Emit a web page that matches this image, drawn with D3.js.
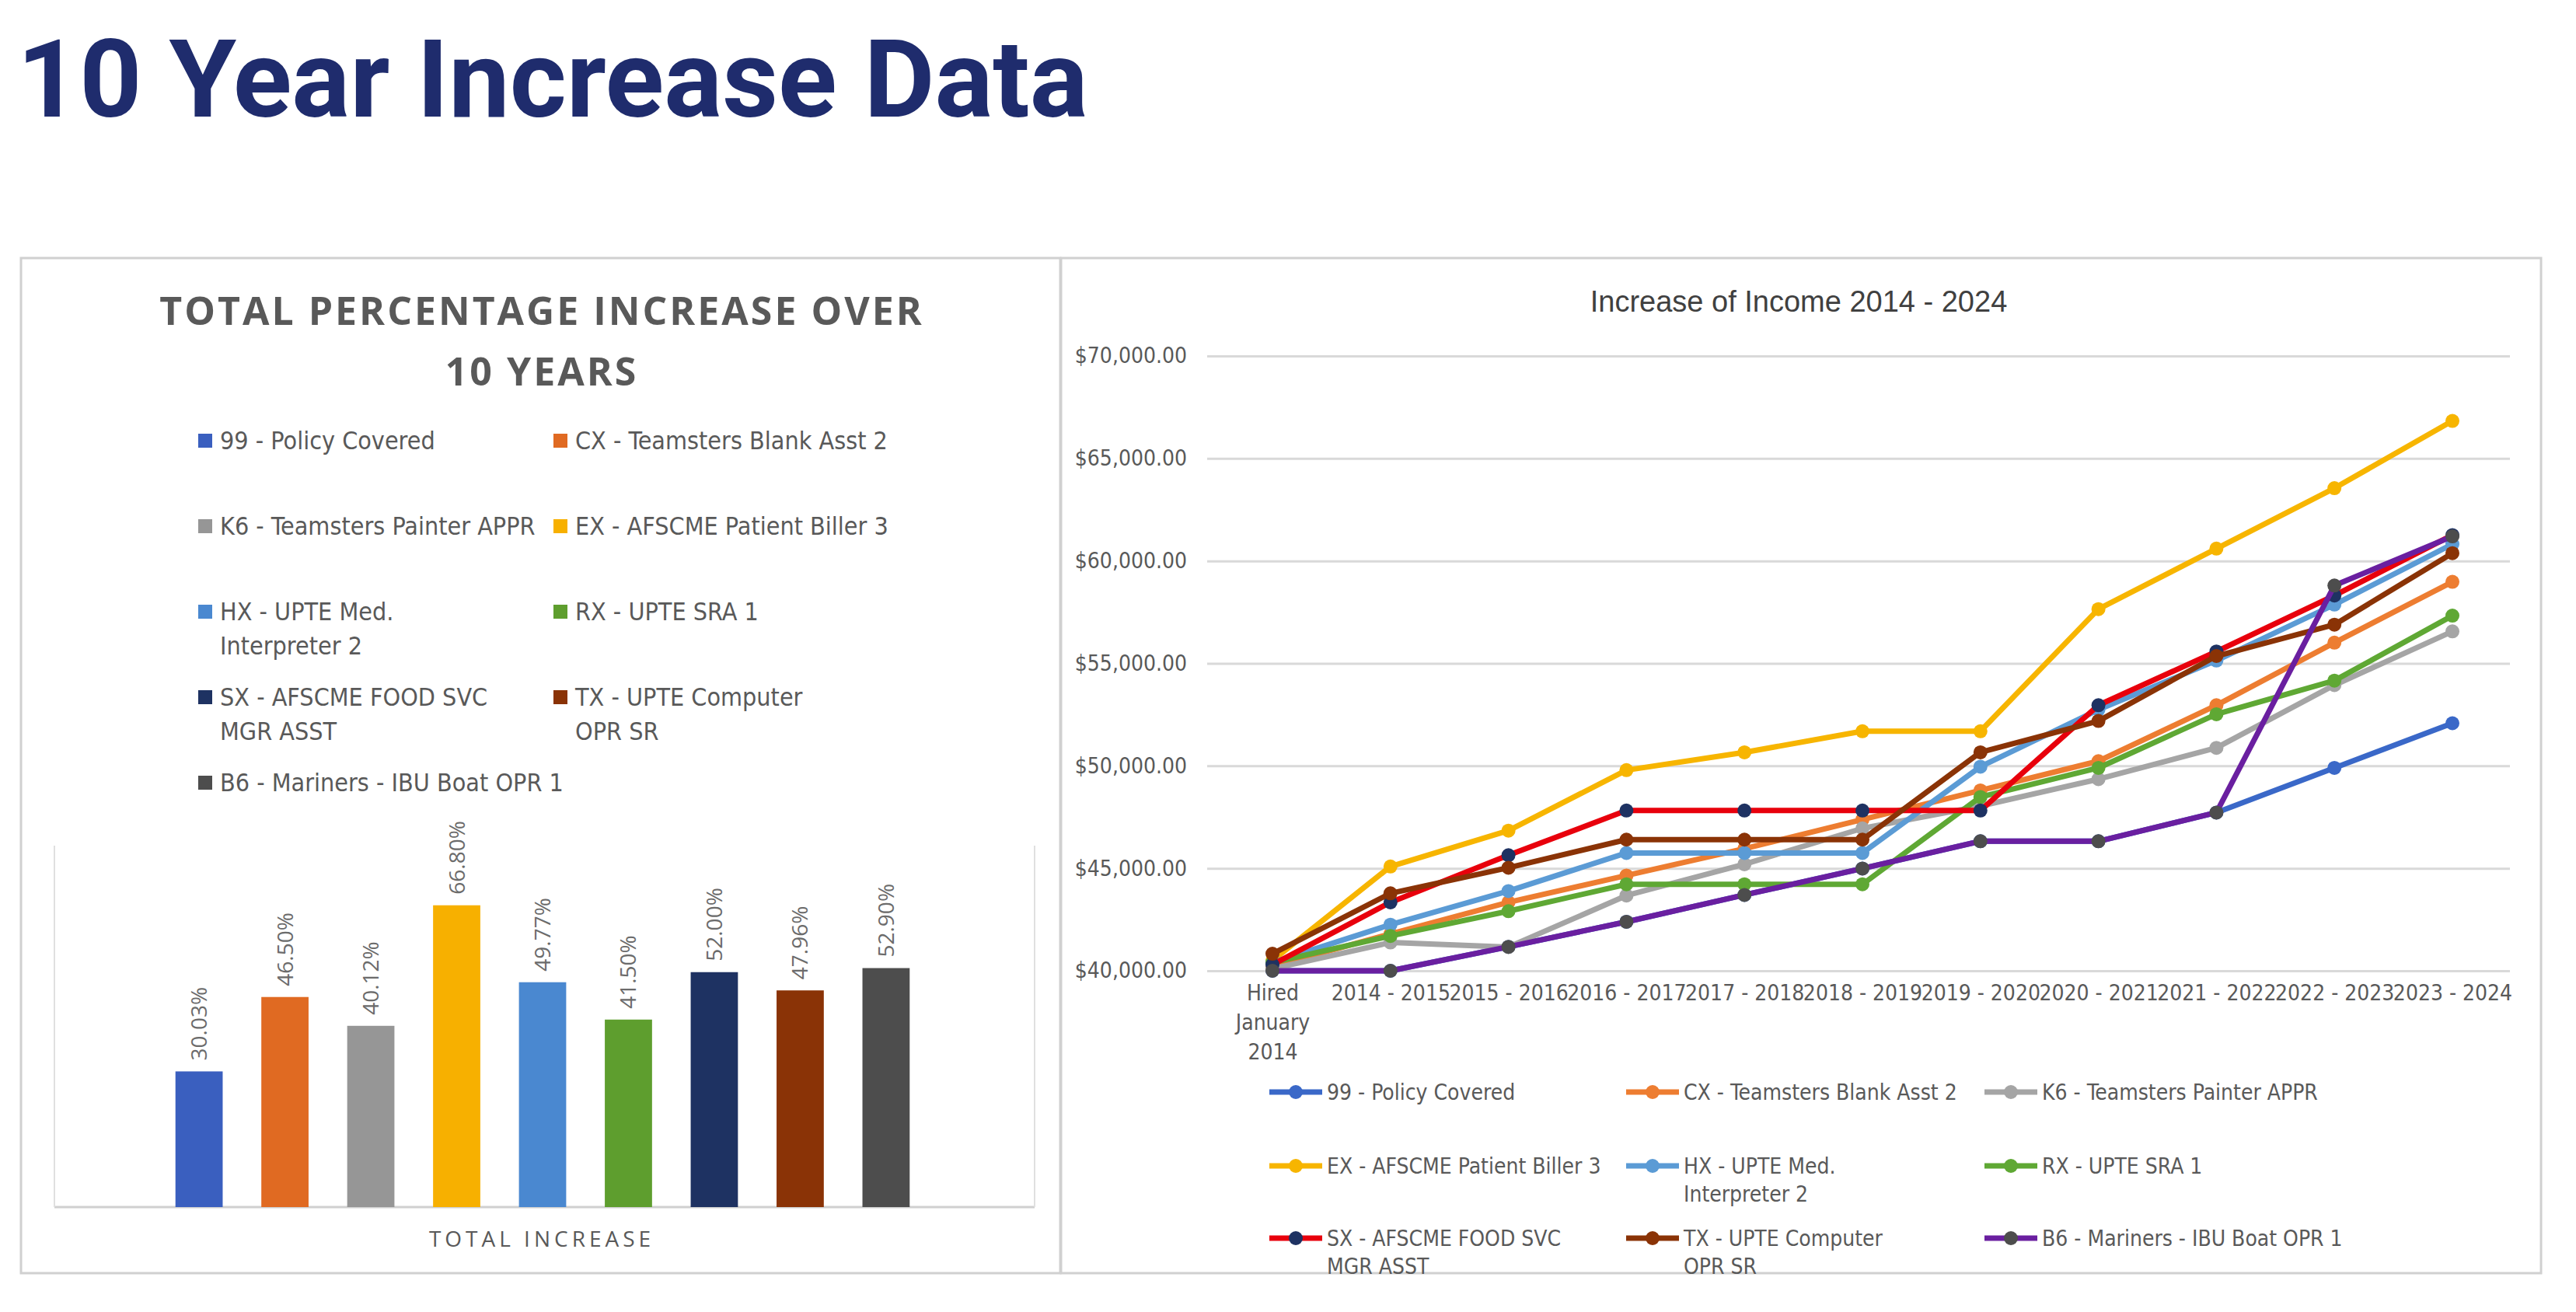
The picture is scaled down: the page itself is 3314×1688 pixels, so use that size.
<!DOCTYPE html>
<html>
<head>
<meta charset="utf-8">
<script src="https://cdn.jsdelivr.net/npm/d3@7"></script>
<style>
  body { margin: 0; background: #fff; }
  svg { display: block; }
</style>
</head>
<body>
<svg id="page" width="3314" height="1688"></svg>
<script>
// ---- data ----
const barCodes = ["99 - Policy Covered", "CX - Teamsters Blank Asst 2", "K6 - Teamsters Painter APPR",
  "EX - AFSCME Patient Biller 3", "HX - UPTE Med. Interpreter 2", "RX - UPTE SRA 1",
  "SX - AFSCME FOOD SVC MGR ASST", "TX - UPTE Computer OPR SR", "B6 - Mariners - IBU Boat OPR 1"];
const barValues = [30.03, 46.50, 40.12, 66.80, 49.77, 41.50, 52.00, 47.96, 52.90];
const barColors = ["#3a5fbf", "#e06a22", "#969696", "#f7b000", "#4a88d0", "#5e9e2e", "#1e3262", "#8a3306", "#4d4d4d"];

// legend labels split onto lines as in the picture
const legendLines = [["99 - Policy Covered"], ["CX - Teamsters Blank Asst 2"], ["K6 - Teamsters Painter APPR"],
  ["EX - AFSCME Patient Biller 3"], ["HX - UPTE Med.", "Interpreter 2"], ["RX - UPTE SRA 1"],
  ["SX - AFSCME FOOD SVC", "MGR ASST"], ["TX - UPTE Computer", "OPR SR"], ["B6 - Mariners - IBU Boat OPR 1"]];

const years = ["Hired January 2014", "2014 - 2015", "2015 - 2016", "2016 - 2017", "2017 - 2018",
  "2018 - 2019", "2019 - 2020", "2020 - 2021", "2021 - 2022", "2022 - 2023", "2023 - 2024"];

const s99 = [40000, 40000, 41170, 42390, 43700, 44990, 46320, 46320, 47720, 49900, 52080];
const sCX = [40200, 41800, 43340, 44650, 45960, 47380, 48800, 50230, 52960, 56010, 58980];
const sK6 = [40100, 41380, 41160, 43670, 45200, 46950, 48040, 49350, 50880, 53940, 56560];
const sEX = [40500, 45090, 46840, 49790, 50660, 51690, 51690, 57650, 60600, 63550, 66830];
const sHX = [40400, 42250, 43890, 45750, 45750, 45750, 49960, 52740, 55140, 57870, 60820];
const sRX = [40400, 41700, 42910, 44220, 44220, 44220, 48480, 49900, 52520, 54160, 57330];
const sSX = [40300, 43340, 45640, 47820, 47820, 47820, 47820, 52960, 55580, 58310, 61260];
const sTX = [40830, 43780, 45030, 46400, 46400, 46400, 50660, 52190, 55360, 56890, 60380];
const sB6 = [40000, 40000, 41170, 42390, 43700, 44990, 46320, 46320, 47720, 58800, 61200];

const lineSeries = [s99, sCX, sK6, sEX, sHX, sRX, sSX, sTX, sB6];
const lineColors = ["#3a68c8", "#ed7d31", "#a5a5a5", "#f7b500", "#5b9bd5", "#5fa834", "#e8000c", "#8a3306", "#6a1fa0"];
const markerColors = ["#3a68c8", "#ed7d31", "#a5a5a5", "#f7b500", "#5b9bd5", "#5fa834", "#1e3262", "#8a3306", "#4d4d4d"];
const yTicks = [40000, 45000, 50000, 55000, 60000, 65000, 70000];

const svg = d3.select("#page");
const narrow = "'Liberation Sans Narrow', 'DejaVu Sans Condensed', sans-serif";

// page title
svg.append("text").attr("x", 22).attr("y", 150)
  .attr("font-family", "Roboto, sans-serif").attr("font-weight", 700)
  .attr("font-size", 140).attr("fill", "#1f2c6d")
  .text("10 Year Increase Data");

// panel frames
svg.append("rect").attr("x", 27).attr("y", 332).attr("width", 1337).attr("height", 1306)
  .attr("fill", "none").attr("stroke", "#d0d0d0").attr("stroke-width", 3);
svg.append("rect").attr("x", 1365).attr("y", 332).attr("width", 1904).attr("height", 1306)
  .attr("fill", "none").attr("stroke", "#d0d0d0").attr("stroke-width", 3);

// ---------- bar chart ----------
const bar = svg.append("g");
bar.selectAll("text.btitle")
  .data(["TOTAL  PERCENTAGE  INCREASE  OVER", "10  YEARS"])
  .enter().append("text")
  .attr("x", 697).attr("y", (d, i) => 418 + i * 78)
  .attr("text-anchor", "middle")
  .attr("font-family", "'Open Sans', sans-serif").attr("font-weight", 700)
  .attr("font-size", 50).attr("letter-spacing", 3).attr("fill", "#595959")
  .text(d => d);

const legRowY = [578, 688, 798, 908, 1018];
const legColX = [255, 712];
legendLines.forEach((lines, i) => {
  const x = legColX[i % 2], y = legRowY[Math.floor(i / 2)];
  bar.append("rect").attr("x", x).attr("y", y - 20).attr("width", 18).attr("height", 18).attr("fill", barColors[i]);
  lines.forEach((l, j) => {
    bar.append("text").attr("x", x + 28).attr("y", y + j * 44)
      .attr("font-family", narrow).attr("font-size", 32).attr("fill", "#595959").text(l);
  });
});

const bx = d3.scaleBand().domain(barCodes).range([176, 1220]).padding(0.45);
const by = d3.scaleLinear().domain([0, 80]).range([1553, 1088]);

bar.append("line").attr("x1", 70).attr("x2", 1331).attr("y1", by(0)).attr("y2", by(0))
  .attr("stroke", "#d0d0d0").attr("stroke-width", 3);
bar.append("line").attr("x1", 70).attr("x2", 70).attr("y1", 1088).attr("y2", by(0)).attr("stroke", "#e0e0e0").attr("stroke-width", 2);
bar.append("line").attr("x1", 1331).attr("x2", 1331).attr("y1", 1088).attr("y2", by(0)).attr("stroke", "#e0e0e0").attr("stroke-width", 2);

bar.selectAll("rect.bar").data(barValues).enter().append("rect")
  .attr("class", "bar")
  .attr("x", (d, i) => bx(barCodes[i])).attr("width", bx.bandwidth())
  .attr("y", d => by(d)).attr("height", d => by(0) - by(d))
  .attr("fill", (d, i) => barColors[i]);

bar.selectAll("text.blab").data(barValues).enter().append("text")
  .attr("transform", (d, i) => `translate(${bx(barCodes[i]) + bx.bandwidth() / 2 + 10}, ${by(d) - 14}) rotate(-90)`)
  .attr("font-family", "'Open Sans', sans-serif").attr("font-size", 28).attr("fill", "#6b6b6b")
  .text(d => d.toFixed(2) + "%");

bar.append("text").attr("x", 697).attr("y", 1604).attr("text-anchor", "middle")
  .attr("font-family", "'Open Sans', sans-serif").attr("font-size", 28).attr("letter-spacing", 5)
  .attr("fill", "#595959").text("TOTAL INCREASE");

// ---------- line chart ----------
const lc = svg.append("g");
lc.append("text").attr("x", 2314).attr("y", 401).attr("text-anchor", "middle")
  .attr("font-family", "'Liberation Sans', sans-serif").attr("font-size", 38).attr("fill", "#404040")
  .text("Increase of Income 2014 - 2024");

const x = d3.scalePoint().domain(years).range([1637, 3155]);
const y = d3.scaleLinear().domain([40000, 70000]).range([1249, 458]);

const yAxis = d3.axisLeft(y).tickValues(yTicks).tickSize(-(3229 - 1553))
  .tickFormat(d => "$" + d3.format(",.2f")(d));
const ya = lc.append("g").attr("transform", "translate(1553,0)").call(yAxis);
ya.select(".domain").remove();
ya.selectAll(".tick line").attr("stroke", "#d9d9d9").attr("stroke-width", 3);
ya.selectAll(".tick text").attr("x", -26).attr("font-family", narrow).attr("font-size", 28).attr("fill", "#595959");

const xa = lc.append("g").attr("transform", "translate(0,1249)").call(d3.axisBottom(x).tickSize(0));
xa.select(".domain").remove();
xa.selectAll(".tick text").each(function (d) {
  const t = d3.select(this).text(null).attr("font-family", narrow).attr("font-size", 28).attr("fill", "#595959").attr("y", 38);
  const parts = d.startsWith("Hired") ? ["Hired", "January", "2014"] : [d];
  parts.forEach((p, k) => t.append("tspan").attr("x", 0).attr("dy", k === 0 ? 0 : 38).text(p));
});

const line = d3.line().x((d, i) => x(years[i])).y(d => y(d));
lineSeries.forEach((s, k) => {
  const g = lc.append("g");
  g.append("path").datum(s).attr("d", line).attr("fill", "none")
    .attr("stroke", lineColors[k]).attr("stroke-width", 7).attr("stroke-linejoin", "round");
  g.selectAll("circle").data(s).enter().append("circle")
    .attr("cx", (d, i) => x(years[i])).attr("cy", d => y(d)).attr("r", 9)
    .attr("fill", markerColors[k]);
});

// line legend
const lRowY = [1405, 1500, 1593];
const lColX = [1633, 2092, 2553];
legendLines.forEach((lines, i) => {
  const cx = lColX[i % 3], cy = lRowY[Math.floor(i / 3)];
  lc.append("line").attr("x1", cx).attr("x2", cx + 68).attr("y1", cy).attr("y2", cy)
    .attr("stroke", lineColors[i]).attr("stroke-width", 7);
  lc.append("circle").attr("cx", cx + 34).attr("cy", cy).attr("r", 9).attr("fill", markerColors[i]);
  lines.forEach((l, j) => {
    lc.append("text").attr("x", cx + 74).attr("y", cy + 10 + j * 36)
      .attr("font-family", narrow).attr("font-size", 28).attr("fill", "#595959").text(l);
  });
});
// clip overflow of last legend row at the panel edge
svg.append("rect").attr("x", 1366).attr("y", 1640).attr("width", 1904).attr("height", 48).attr("fill", "#fff");
</script>
</body>
</html>
